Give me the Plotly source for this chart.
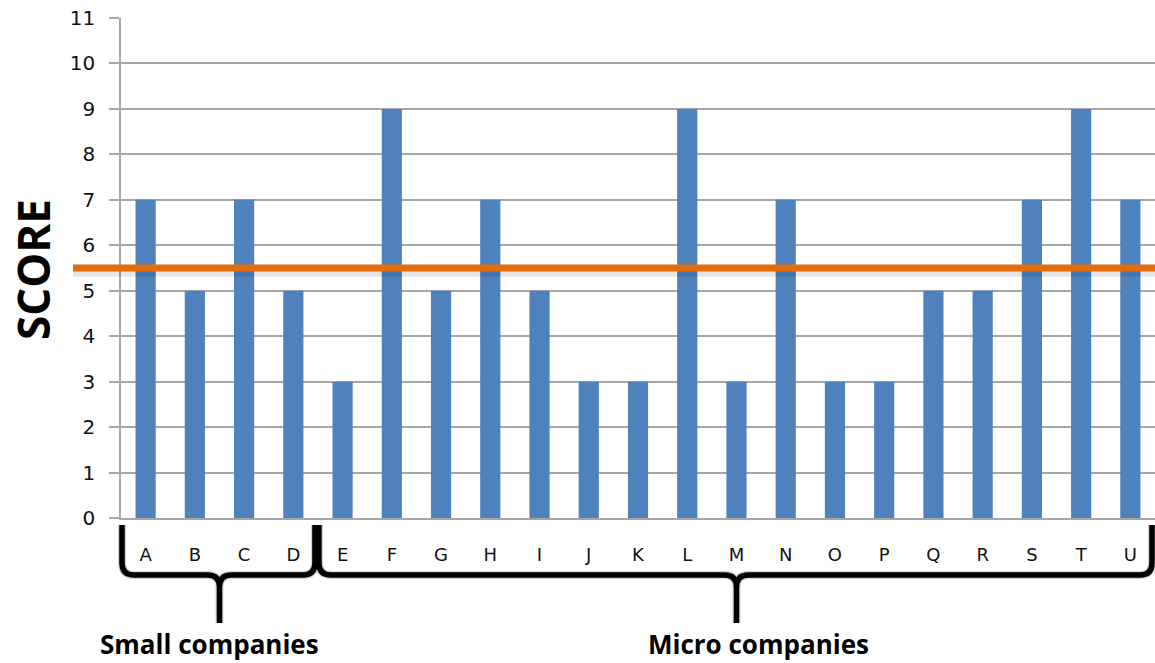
import plotly.graph_objects as go

# Scores per company
companies = list("ABCDEFGHIJKLMNOPQRSTU")
scores = [7, 5, 7, 5, 3, 9, 5, 7, 5, 3, 3, 9, 3, 7, 3, 3, 5, 5, 7, 9, 7]
benchmark = 5.5

# Company groups: (label, first index, last index)
groups = [("Small companies", 0, 3), ("Micro companies", 4, 20)]
y_ticks = list(range(0, 12))

# Canvas / plot-area geometry in pixels
W, H = 1155, 663
L, R, T, B = 121, 0, 18, 145
PW, PH = W - L - R, H - T - B
n = len(companies)
step = PW / n


def px(x):
    return (x - L) / PW


def py(y):
    return (T + PH - y) / PH


def brace_path(x0, x1, xm):
    ytop, yh, ystem, r, r2 = 525, 575, 623, 12, 12
    pts = [
        ("M", x0, ytop), ("L", x0, yh - r), ("Q", x0, yh, x0 + r, yh),
        ("L", xm - r2, yh), ("Q", xm, yh, xm, yh + r2), ("L", xm, ystem),
        ("M", xm, yh + r2), ("Q", xm, yh, xm + r2, yh),
        ("L", x1 - r, yh), ("Q", x1, yh, x1, yh - r), ("L", x1, ytop),
    ]
    out = []
    for p in pts:
        cmd = p[0]
        coords = p[1:]
        s = []
        for i in range(0, len(coords), 2):
            s.append(f"{px(coords[i]):.5f},{py(coords[i + 1]):.5f}")
        out.append(cmd + " " + " ".join(s))
    return " ".join(out)


fig = go.Figure(
    go.Bar(
        x=companies,
        y=scores,
        marker=dict(color="#4F81BD", line=dict(width=0)),
        width=0.41,
    )
)

shapes = []
# benchmark line with soft shadow
shapes.append(dict(
    type="line", xref="paper", x0=px(73), x1=1.0,
    yref="y", ysizemode="pixel", yanchor=benchmark, y0=-5, y1=-5,
    line=dict(color="rgba(0,0,0,0.10)", width=7), layer="above",
))
shapes.append(dict(
    type="line", xref="paper", x0=px(73), x1=1.0,
    yref="y", y0=benchmark, y1=benchmark,
    line=dict(color="#E46C0A", width=7), layer="above",
))

annotations = []
label_offsets = [-10, 22]
for (label, i0, i1), dx in zip(groups, label_offsets):
    x0 = L + i0 * step + 1
    x1 = L + (i1 + 1) * step - 3
    xm = L + ((i0 + i1) / 2 + 0.5) * step
    path = brace_path(x0, x1, xm)
    shapes.append(dict(type="path", xref="paper", yref="paper", path=path,
                       line=dict(color="rgba(0,0,0,0.18)", width=8)))
    shapes.append(dict(type="path", xref="paper", yref="paper", path=path,
                       line=dict(color="black", width=5.5)))
    annotations.append(dict(
        text=f"<b>{label}</b>", xref="paper", yref="paper",
        x=px(xm + dx), y=py(644), showarrow=False,
        xanchor="center", yanchor="middle",
        font=dict(family="Open Sans", size=26, color="black"),
    ))

annotations.append(dict(
    text="<b>SCORE</b>", xref="paper", yref="paper",
    x=px(33), y=py(270), showarrow=False, textangle=-90,
    xanchor="center", yanchor="middle",
    font=dict(family="Open Sans", size=44, color="black"),
))

fig.update_layout(
    width=W, height=H,
    margin=dict(l=L, r=R, t=T, b=B, pad=0),
    paper_bgcolor="white", plot_bgcolor="white",
    showlegend=False,
    bargap=0.59,
    shapes=shapes,
    annotations=annotations,
    xaxis=dict(
        type="category", showgrid=False, showline=True,
        linecolor="#A6A6A6", linewidth=1.5, ticks="",
        tickfont=dict(family="DejaVu Sans", size=18, color="#111111"),
        ticklabelstandoff=20,
        range=[-0.5, n - 0.5],
    ),
    yaxis=dict(
        range=[0, 11], tickvals=y_ticks, showgrid=True,
        gridcolor="#A6A6A6", gridwidth=1.5,
        showline=True, linecolor="#A6A6A6", linewidth=1.5,
        ticks="outside", ticklen=10, tickcolor="#A6A6A6", tickwidth=1.5,
        tickfont=dict(family="DejaVu Sans", size=20, color="#111111"),
        ticklabelstandoff=10, zeroline=False,
    ),
)

fig.write_html("out.html")
